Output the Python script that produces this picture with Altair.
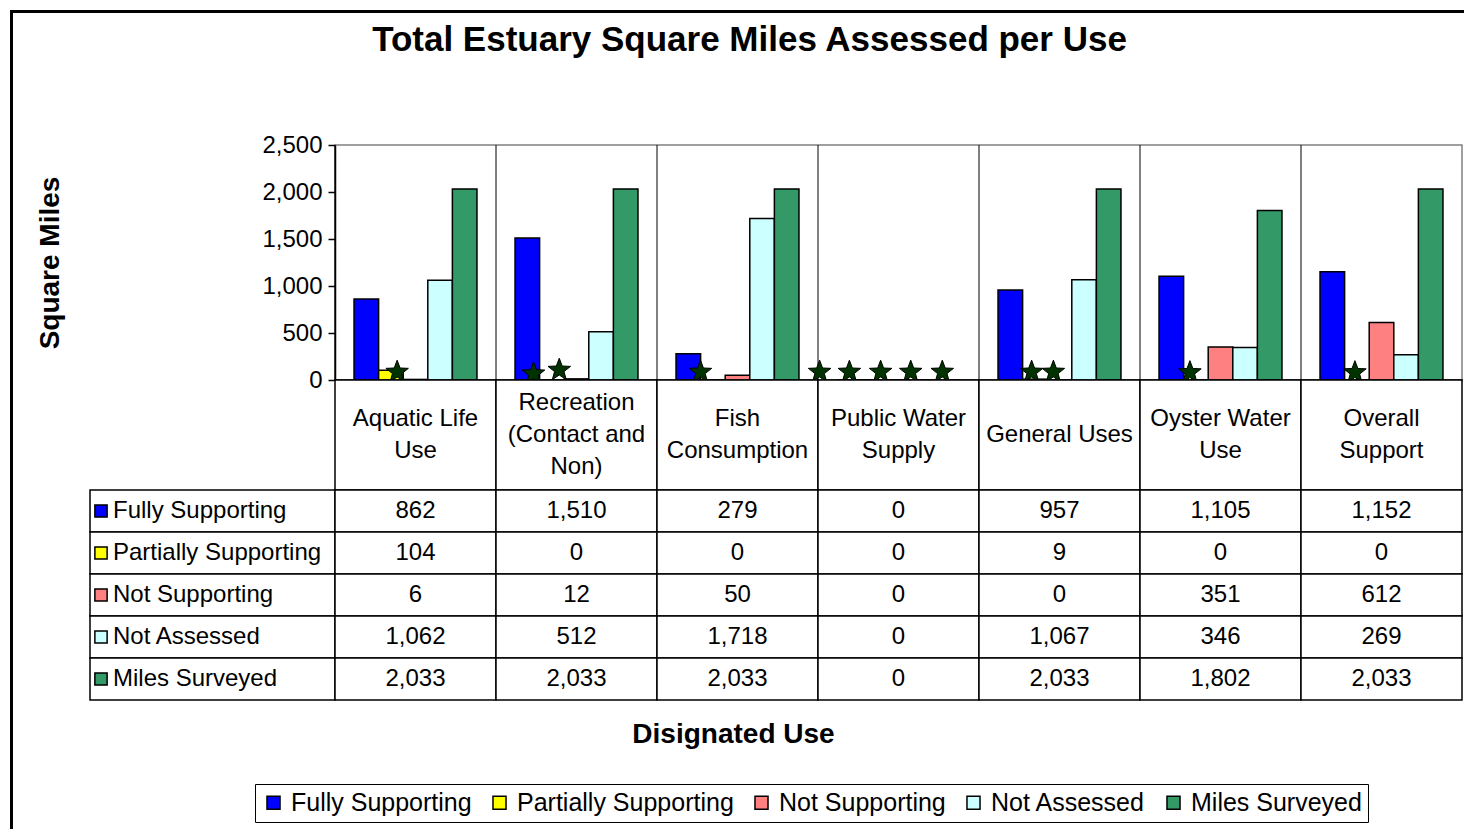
import altair as alt
import pandas as pd

# ---------------- data ----------------
categories = ["Aquatic Life Use", "Recreation (Contact and Non)", "Fish Consumption",
              "Public Water Supply", "General Uses", "Oyster Water Use", "Overall Support"]
category_lines = [["Aquatic Life", "Use"], ["Recreation", "(Contact and", "Non)"], ["Fish", "Consumption"],
                  ["Public Water", "Supply"], ["General Uses"], ["Oyster Water", "Use"], ["Overall", "Support"]]
series = ["Fully Supporting", "Partially Supporting", "Not Supporting", "Not Assessed", "Miles Surveyed"]
fully_supporting = [862, 1510, 279, 0, 957, 1105, 1152]
partially_supporting = [104, 0, 0, 0, 9, 0, 0]
not_supporting = [6, 12, 50, 0, 0, 351, 612]
not_assessed = [1062, 512, 1718, 0, 1067, 346, 269]
miles_surveyed = [2033, 2033, 2033, 0, 2033, 1802, 2033]
colors = ["#0000FF", "#FFFF00", "#FF8080", "#CCFFFF", "#339966"]
y_ticks = [0, 500, 1000, 1500, 2000, 2500]

# star markers (category index, position within category cell 0..1, value)
star_category = [0, 1, 1, 2, 3, 3, 3, 3, 3, 4, 4, 5, 6]
star_position = [0.386, 0.233, 0.393, 0.270, 0.010, 0.195, 0.389, 0.576, 0.772, 0.327, 0.462, 0.310, 0.335]
star_value = [85, 67, 106, 85, 85, 85, 85, 85, 85, 85, 85, 80, 80]

title_text = "Total Estuary Square Miles Assessed per Use"
y_title = "Square Miles"
x_title = "Disignated Use"

# ---------------- tables ----------------
all_values = [fully_supporting, partially_supporting, not_supporting, not_assessed, miles_surveyed]
rows = []
for s, vals in zip(series, all_values):
    for c, v in zip(categories, vals):
        rows.append({"category": c, "series": s, "value": v})
df = pd.DataFrame(rows)
df_cat = pd.DataFrame({"category": categories})
df_ser = pd.DataFrame({"series": series})
df_star = pd.DataFrame({
    "category": [categories[i] for i in star_category],
    "pos": star_position,
    "value": star_value,
})
line_rows = []
for c, lines in zip(categories, category_lines):
    n = len(lines)
    for i, t in enumerate(lines):
        line_rows.append({"category": c, "line": t, "slot": i - (n - 1) / 2})
df_lines = pd.DataFrame(line_rows)

FONT = "Liberation Sans"
W_LAB = 245
W_PLOT = 1127
H_PLOT = 235
H_HEAD = 110
H_TAB = 210
CELL = W_PLOT / len(categories)
LINE_H = 32
HALF_SLOTS = H_HEAD / LINE_H / 2

STAR = ("M0,-1L0.247,-0.34L0.951,-0.309L0.399,0.13L0.588,0.809L0,0.42"
        "L-0.588,0.809L-0.399,0.13L-0.951,-0.309L-0.247,-0.34Z")

x_scale = alt.Scale(domain=categories, paddingInner=0, paddingOuter=0)
color_scale = alt.Scale(domain=series, range=colors)

# ---------------- top chart ----------------
bars = alt.Chart(df).mark_bar(stroke="black", strokeWidth=1.5).encode(
    x=alt.X("category:N", sort=categories, scale=x_scale,
            axis=alt.Axis(labels=False, ticks=False, title=None, domainColor="black", domainWidth=2)),
    xOffset=alt.XOffset("series:N", sort=series,
                        scale=alt.Scale(domain=series, paddingInner=0, paddingOuter=0.774)),
    y=alt.Y("value:Q", scale=alt.Scale(domain=[0, 2500], nice=False),
            axis=alt.Axis(values=y_ticks, format=",.0f", grid=False, tickSize=7, tickColor="black",
                          tickWidth=1.5, domainColor="black", domainWidth=1.5, labelFontSize=24,
                          labelColor="black", labelPadding=6, title=y_title, titleFontSize=28,
                          titleFontWeight="bold", titleColor="black", titleAngle=270,
                          titleX=-285, titleY=H_PLOT / 2, titleAlign="center", titleBaseline="middle")),
    color=alt.Color("series:N", sort=series, scale=color_scale,
                    legend=alt.Legend(title=None, orient="none", legendX=-80, legendY=639,
                                      direction="horizontal", columns=5, symbolType="square",
                                      symbolSize=170, symbolStrokeColor="black", symbolStrokeWidth=1.5,
                                      symbolOpacity=1, labelFontSize=25, labelFont=FONT, labelLimit=0,
                                      labelColor="black", strokeColor="black", padding=6,
                                      columnPadding=15, labelOffset=5, fillColor="white")),
)

dividers = alt.Chart(df_cat).mark_rule(color="black", strokeWidth=1).encode(
    x=alt.X("category:N", sort=categories, bandPosition=0),
)

stars = alt.Chart(df_star).mark_point(shape=STAR, filled=True, fill="#003300", stroke="black",
                                      strokeWidth=1, size=560, opacity=1).encode(
    x=alt.X("category:N", sort=categories),
    xOffset=alt.XOffset("pos:Q", scale=alt.Scale(domain=[0, 1], range=[0, CELL])),
    y=alt.Y("value:Q"),
)

top = alt.layer(dividers, bars, stars).resolve_scale(xOffset="independent").properties(
    width=W_PLOT, height=H_PLOT,
    view=alt.ViewBackground(stroke="#808080", strokeWidth=1.5),
    title=alt.TitleParams(title_text, fontSize=35, fontWeight="bold", font=FONT, color="black",
                          anchor="middle", frame="group", dx=-149, offset=75),
)

# ---------------- header row (category names) ----------------
header = alt.layer(
    alt.Chart(df_cat).mark_rect(fill="white", stroke="black", strokeWidth=1.5).encode(
        x=alt.X("category:N", sort=categories, scale=x_scale, axis=None)),
    alt.Chart(df_lines).mark_text(fontSize=24, baseline="middle", color="black").encode(
        x=alt.X("category:N", sort=categories, scale=x_scale, axis=None),
        y=alt.Y("slot:Q", scale=alt.Scale(domain=[-HALF_SLOTS, HALF_SLOTS], reverse=True), axis=None),
        text="line:N"),
).properties(width=W_PLOT, height=H_HEAD)

# ---------------- data table ----------------
tab_base = alt.Chart(df).encode(
    x=alt.X("category:N", sort=categories, scale=x_scale,
            axis=alt.Axis(labels=False, ticks=False, domain=False, title=x_title, titleFontSize=28,
                          titleFontWeight="bold", titleColor="black", titleX=398, titleY=42,
                          titleAlign="center", titleBaseline="alphabetic")),
    y=alt.Y("series:N", sort=series, axis=None),
)
table = alt.layer(
    tab_base.mark_rect(fill="white", stroke="black", strokeWidth=1.5),
    tab_base.mark_text(fontSize=24, color="black").encode(text=alt.Text("value:Q", format=",")),
).properties(width=W_PLOT, height=H_TAB)

# ---------------- row labels ----------------
lab_base = alt.Chart(df_ser).encode(y=alt.Y("series:N", sort=series, axis=None))
labels = alt.layer(
    lab_base.mark_rect(fill="white", stroke="black", strokeWidth=1.5),
    lab_base.mark_point(shape="square", filled=True, size=150, stroke="black", strokeWidth=1.5,
                        opacity=1).encode(
        x=alt.value(11),
        color=alt.Color("series:N", sort=series, scale=color_scale, legend=None)),
    lab_base.mark_text(align="left", fontSize=24, color="black").encode(
        x=alt.value(23), text="series:N"),
).properties(width=W_LAB, height=H_TAB)

# ---------------- spacers & outer frame ----------------
frame_df = pd.DataFrame({"v": [0]})
frame = alt.layer(
    alt.Chart(frame_df).mark_rule(color="black", strokeWidth=3).encode(
        x=alt.value(-78.5), y=alt.value(-135), y2=alt.value(684)),
    alt.Chart(frame_df).mark_rule(color="black", strokeWidth=3).encode(
        x=alt.value(-80), x2=alt.value(W_LAB + W_PLOT + 2), y=alt.value(-133.5)),
).properties(width=W_LAB, height=H_PLOT)

spacer2 = alt.Chart(frame_df).mark_text(text="").properties(width=W_LAB, height=H_HEAD)

chart = alt.concat(
    frame, top, spacer2, header, labels, table,
    columns=2, spacing=0, bounds="flush", padding=0,
).resolve_scale(
    x="independent", y="independent", color="independent", xOffset="independent"
).resolve_legend(color="independent").configure(
    font=FONT
).configure_view(stroke=None)

chart.save("out.html", embed_options={"renderer": "svg", "actions": False})
